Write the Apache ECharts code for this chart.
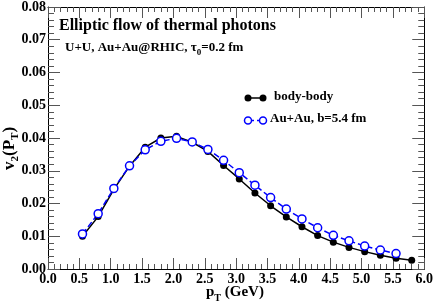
<!DOCTYPE html>
<html><head><meta charset="utf-8">
<script src="https://cdn.jsdelivr.net/npm/echarts@6/dist/echarts.min.js"></script>
<style>html,body{margin:0;padding:0;background:#fff}#c{width:436px;height:305px}</style>
</head><body><div id="c"></div>
<script>
var pTBody = [0.55,0.8,1.05,1.3,1.55,1.8,2.05,2.3,2.55,2.8,3.05,3.3,3.55,3.8,4.05,4.3,4.55,4.8,5.05,5.3,5.55,5.8];
var v2Body = [0.0100,0.0160,0.0243,0.0314,0.0372,0.0400,0.0405,0.0387,0.0359,0.0316,0.0275,0.0232,0.0193,0.0159,0.0129,0.0102,0.0082,0.0066,0.0053,0.0042,0.0033,0.0027];
var pTAu = [0.55,0.8,1.05,1.3,1.55,1.8,2.05,2.3,2.55,2.8,3.05,3.3,3.55,3.8,4.05,4.3,4.55,4.8,5.05,5.3,5.55];
var v2Au = [0.0107,0.0169,0.0246,0.0315,0.0364,0.0390,0.0399,0.0388,0.0365,0.0332,0.0294,0.0256,0.0218,0.0183,0.0153,0.0126,0.0103,0.0086,0.0070,0.0058,0.0047];
var seriesNames = ['body-body','Au+Au, b=5.4 fm'];

var FONT = '"Liberation Serif", "Times New Roman", serif';
function pairs(xs, ys){ return xs.map(function(x,i){return [x, ys[i]];}); }
var tickStyle = {color:'#555', width:1};
function xAx(pos, showLabel){
  return {type:'value', position:pos, min:0, max:6, interval:0.5,
    axisLine:{show:true, onZero:false, lineStyle:{color:'#000', width:1}},
    axisTick:{show:true, inside:true, length:11, lineStyle:tickStyle},
    minorTick:{show:true, splitNumber:5, length:5, lineStyle:tickStyle},
    splitLine:{show:false},
    axisLabel:{show:showLabel, margin:3, color:'#000', fontFamily:FONT, fontWeight:'bold', fontSize:14,
      formatter:function(v){return v.toFixed(1);}}};
}
function yAx(pos, showLabel){
  return {type:'value', position:pos, min:0, max:0.08, interval:0.01,
    axisLine:{show:true, onZero:false, lineStyle:{color:'#000', width:1}},
    axisTick:{show:true, inside:true, length:12, lineStyle:tickStyle},
    minorTick:{show:true, splitNumber:5, length:6, lineStyle:tickStyle},
    splitLine:{show:false},
    axisLabel:{show:showLabel, margin:2, color:'#000', fontFamily:FONT, fontWeight:'bold', fontSize:14,
      padding:[4,0,0,0],
      formatter:function(v){return v.toFixed(2);}}};
}
var chart = echarts.init(document.getElementById('c'), null, {renderer:'canvas'});
var txt = {fontFamily:FONT, fontWeight:'bold', fill:'#000'};
chart.setOption({
  animation:false,
  grid:{left:48, right:10, top:6, bottom:36},
  xAxis:[xAx('bottom', true), xAx('top', false)],
  yAxis:[yAx('left', true), yAx('right', false)],
  series:[
    {name:seriesNames[0], type:'line', data:pairs(pTBody, v2Body), symbol:'circle', symbolSize:7,
     lineStyle:{color:'#000', width:1.5}, itemStyle:{color:'#000'}},
    {name:seriesNames[1], type:'line', data:pairs(pTAu, v2Au), symbol:'circle', symbolSize:8,
     lineStyle:{color:'#0000ff', width:1.5, type:[6,3]}, itemStyle:{color:'#fff', borderColor:'#0000ff', borderWidth:1.5}}
  ],
  graphic:[
    {type:'text', left:59, top:18, style:Object.assign({text:'Elliptic flow of thermal photons', fontSize:16}, txt)},
    {type:'text', left:65, top:41, style:Object.assign({
      text:'{m|U+U, Au+Au@RHIC, τ}{s|0}{m|=0.2 fm}',
      rich:{m:{fontFamily:FONT, fontWeight:'bold', fontSize:13, lineHeight:16, verticalAlign:'top'},
            s:{fontFamily:FONT, fontWeight:'bold', fontSize:9, lineHeight:16, verticalAlign:'top', padding:[7,0,0,0]}}}, txt)},
    // legend
    {type:'line', shape:{x1:248, y1:98, x2:263, y2:98}, style:{stroke:'#000', lineWidth:1.5}},
    {type:'circle', shape:{cx:248, cy:98, r:3.5}, style:{fill:'#000'}},
    {type:'circle', shape:{cx:263, cy:98, r:3.5}, style:{fill:'#000'}},
    {type:'text', left:274, top:90, style:Object.assign({text:seriesNames[0], fontSize:13}, txt)},
    {type:'line', shape:{x1:248, y1:120.5, x2:263, y2:120.5}, style:{stroke:'#0000ff', lineWidth:1.5, lineDash:[6,3]}},
    {type:'circle', shape:{cx:248, cy:120.5, r:3.5}, style:{fill:'#fff', stroke:'#0000ff', lineWidth:1.5}},
    {type:'circle', shape:{cx:263, cy:120.5, r:3.5}, style:{fill:'#fff', stroke:'#0000ff', lineWidth:1.5}},
    {type:'text', left:270, top:112, style:Object.assign({text:seriesNames[1], fontSize:13}, txt)},
    // axis titles
    {type:'text', left:206, top:285, style:Object.assign({
      text:'{m|p}{s|T}{m| (GeV)}',
      rich:{m:{fontFamily:FONT, fontWeight:'bold', fontSize:15, lineHeight:18, verticalAlign:'top'},
            s:{fontFamily:FONT, fontWeight:'bold', fontSize:10, lineHeight:18, verticalAlign:'top', padding:[8,0,0,0]}}}, txt)},
    {type:'text', x:1, y:170, rotation:Math.PI/2, style:Object.assign({
      text:'{m|v}{s|2}{m|(P}{s|T}{m|)}',
      rich:{m:{fontFamily:FONT, fontWeight:'bold', fontSize:17, lineHeight:20, verticalAlign:'top'},
            s:{fontFamily:FONT, fontWeight:'bold', fontSize:11, lineHeight:20, verticalAlign:'top', padding:[9,0,0,0]}}}, txt)}
  ]
});
</script></body></html>
